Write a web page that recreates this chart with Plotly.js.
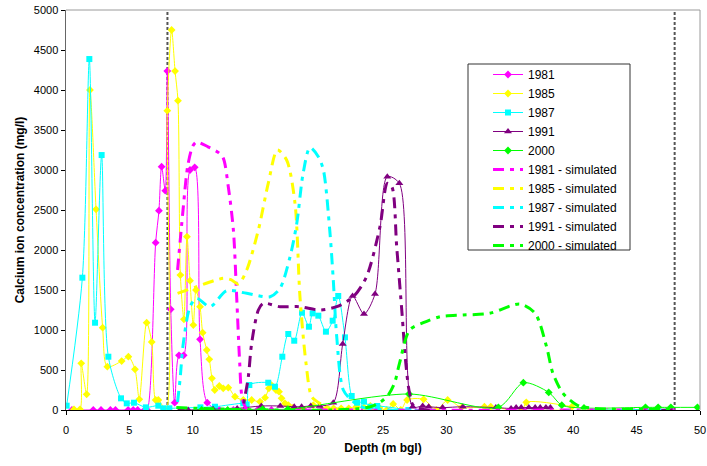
<!DOCTYPE html>
<html>
<head>
<meta charset="utf-8">
<script src="https://cdn.plot.ly/plotly-3.0.1.min.js"></script>
<style>html,body{margin:0;padding:0;background:#fff;}#chart{width:707px;height:466px;}</style>
</head>
<body>
<div id="chart"></div>
<script>
// ---- Observed data ----
const depth1981 = [0.47,2.15,2.76,3.5,3.9,4.9,5.3,5.65,6.2,6.4,7.07,7.33,7.54,7.83,7.99,8.26,8.57,8.91,9.28,9.78,10.15,10.57,11.14,12.1,13.2,14.1,15.1,16.2,17.5,18.8,20.2];
const ca1981    = [0,0,0,0,0,0,0,0,0,0,2091,2491,3042,2741,4237,1258,91,683,683,3000,3033,883,91,0,0,0,0,0,0,0,0];

const depth1985 = [0.63,1.1,1.2,1.63,1.89,2.37,2.89,3.26,4.39,4.92,5.44,5.78,6.36,6.76,7.07,7.28,7.89,7.99,8.33,8.6,8.83,9.02,9.3,9.54,9.78,10.04,10.25,10.57,10.78,11.1,11.3,11.51,11.73,12.09,12.4,12.8,13.33,13.98,14.64,15.3,15.7,16.0,16.2,16.56,16.8,17.0,17.27,17.53,17.9,18.6,19.5,20.56,21.1,21.7,22.3,22.9,23.5,24.0,24.7,25.3,25.8,26.4,26.9,28.2,29.2,30.1,31.2,33.0,33.5,36.0,36.3,39.9];
const ca1985    = [9,9,583,196,4000,2509,1029,542,612,666,508,133,1091,850,125,125,9,3741,4750,4237,3866,1687,1133,2166,1616,1062,1500,1291,966,750,633,396,250,300,271,279,166,125,125,104,154,271,312,250,229,146,83,62,30,20,62,21,21,21,21,41,30,50,30,0,75,0,125,133,0,125,33,41,41,0,96,41];

const depth1987 = [0.05,1.29,1.84,2.29,2.81,3.34,4.34,4.79,5.36,6.3,7.28,7.67,8.15,10.6,11.75,13.98,14.25,14.46,15.95,16.48,17.06,17.53,18.0,18.61,19.16,19.45,19.9,20.5,21.03,21.47,22.0,22.53,22.97,23.5,24.03,24.55,27.0];
const ca1987    = [54,1654,4387,1091,3187,666,146,83,91,33,54,21,21,33,41,83,70,312,341,291,666,950,866,1216,1041,1208,1179,979,1116,1425,908,175,91,104,41,50,0];

const depth1991 = [9.64,11.6,13.5,15.4,16.9,18.0,18.58,19.3,20.0,21.08,21.82,22.6,23.5,24.37,25.34,26.29,27.34,28.13,28.6,29.7,31.3,33.9,35.1,35.5,35.9,36.5,37.0,37.4,37.85,38.2];
const ca1991    = [0,10,20,50,50,41,41,50,50,91,825,1425,1200,1450,2916,2833,41,50,41,30,41,30,20,30,30,30,30,30,30,30];

const depth2000 = [10.7,12.75,15.5,17.5,27.05,34.1,36.07,38.07,39.1,40.85,45.7,46.7,47.7,49.8];
const ca2000    = [0,0,10,10,200,33,341,220,60,25,33,33,33,33];

// ---- Simulated data ----
const simDepth1981 = [8.8,9.2,9.6,10.0,10.3,11.2,12.0,12.4,12.8,13.2,13.46,13.7,13.9,14.3,20,48];
const simCa1981    = [1750,2450,3050,3300,3350,3290,3220,3150,2790,2250,1416,587,150,10,0,0];

const simDepth1985 = [8.8,10.3,12.4,13.0,13.6,14.25,15.17,15.95,16.67,17.4,18.06,18.45,18.93,19.38,20.0,21.0,48];
const simCa1985    = [1458,1541,1646,1630,1575,1750,2250,2833,3250,3125,2583,1416,583,166,83,20,0];

const simDepth1987 = [8.8,8.99,9.25,9.78,10.3,11.36,12.67,14.25,16.1,16.88,17.67,18.2,18.7,19.24,19.9,20.3,20.8,21.08,21.35,21.87,22.66,23.5,48];
const simCa1987    = [100,375,833,1291,1396,1291,1491,1458,1416,1521,1916,2333,2958,3280,3166,3000,2250,1625,916,250,104,30,0];

const simDepth1991 = [8.8,13.8,14.1,14.38,14.64,15.17,15.56,16.88,18.45,20.0,21.35,22.66,23.7,24.76,25.34,25.7,26.08,26.5,26.8,27.1,27.5,48];
const simCa1991    = [0,0,166,416,833,1250,1333,1291,1291,1250,1291,1416,1666,2291,2833,2790,2041,1208,583,208,41,0];

const simDepth2000 = [8.7,24.0,25.3,25.9,26.3,27.1,28.18,29.5,31.3,33.4,35.8,37.0,37.9,38.4,39.2,40.3,41.6,48];
const simCa2000    = [30,40,166,333,583,1000,1091,1166,1187,1208,1325,1208,791,458,208,62,21,10];

const boundaries = [8, 48];
const xTicks = [0,5,10,15,20,25,30,35,40,45,50];
const yTicks = [0,500,1000,1500,2000,2500,3000,3500,4000,4500,5000];

const FONT = 'Liberation Sans, Arial, Helvetica, sans-serif';

function obs(name, x, y, color, symbol, size) {
  return {type:'scatter', mode:'lines+markers', name:name, x:x, y:y,
    line:{color:color, width:1, shape:'spline', smoothing:0.8},
    marker:{color:color, symbol:symbol, size:size}};
}
function sim(name, x, y, color) {
  return {type:'scatter', mode:'lines', name:name, x:x, y:y,
    line:{color:color, width:3, shape:'spline', smoothing:0.8, dash:'11px,6px,4px,6px'}};
}

const traces = [
  obs('1981', depth1981, ca1981, '#FF00FF', 'diamond', 6),
  obs('1985', depth1985, ca1985, '#FFFF00', 'diamond', 6),
  obs('1987', depth1987, ca1987, '#00FFFF', 'square', 6),
  obs('1991', depth1991, ca1991, '#800080', 'triangle-up', 7),
  obs('2000', depth2000, ca2000, '#00FF00', 'diamond', 6),
  sim('1981 - simulated', simDepth1981, simCa1981, '#FF00FF'),
  sim('1985 - simulated', simDepth1985, simCa1985, '#FFFF00'),
  sim('1987 - simulated', simDepth1987, simCa1987, '#00FFFF'),
  sim('1991 - simulated', simDepth1991, simCa1991, '#800080'),
  sim('2000 - simulated', simDepth2000, simCa2000, '#00FF00')
];

const shapes = boundaries.map(b => ({type:'line', xref:'x', yref:'paper', x0:b, x1:b, y0:0, y1:1,
  line:{color:'#555555', width:2, dash:'3px,2px'}, layer:'below'}));
// plot frame (top & right)
shapes.push({type:'line', xref:'paper', yref:'paper', x0:0, x1:1, y0:1, y1:1, line:{color:'#9a9a9a', width:1}});
shapes.push({type:'line', xref:'paper', yref:'paper', x0:1, x1:1, y0:0, y1:1, line:{color:'#9a9a9a', width:1}});
// legend box
shapes.push({type:'rect', xref:'paper', yref:'paper', x0:(468-66)/634, x1:(630-66)/634, y0:(410-250)/400, y1:(410-64)/400,
  line:{color:'#333333', width:1}, fillcolor:'rgba(255,255,255,0)'});

const layout = {
  width:707, height:466,
  margin:{l:66, r:7, t:10, b:56, pad:0},
  paper_bgcolor:'#ffffff', plot_bgcolor:'#ffffff',
  font:{family:FONT, size:11, color:'#000'},
  showlegend:true,
  legend:{x:(488-66)/634, xanchor:'left', y:(410-60)/400, yanchor:'top',
    bgcolor:'rgba(0,0,0,0)', borderwidth:0, font:{family:FONT, size:12, color:'#000'},
    tracegroupgap:0},
  xaxis:{range:[0,50], tickvals:xTicks, ticktext:xTicks.map(String), ticks:'outside', ticklen:4, tickcolor:'#000',
    ticklabelstandoff:6,
    showline:true, linecolor:'#000', linewidth:1, showgrid:false, zeroline:false,
    tickfont:{family:FONT, size:11, color:'#000'},
    title:{text:'<b>Depth (m bgl)</b>', font:{family:FONT, size:12, color:'#000'}, standoff:8}},
  yaxis:{range:[0,5000], tickvals:yTicks, ticktext:yTicks.map(String), ticks:'outside', ticklen:4, tickcolor:'#000',
    showline:true, linecolor:'#666666', linewidth:1.5, showgrid:false, zeroline:false,
    tickfont:{family:FONT, size:11, color:'#000'},
    title:{text:'<b>Calcium ion concentration (mg/l)</b>', font:{family:FONT, size:12, color:'#000'}, standoff:6}},
  shapes:shapes
};

Plotly.newPlot('chart', traces, layout, {displayModeBar:false, staticPlot:true});
</script>
</body>
</html>
